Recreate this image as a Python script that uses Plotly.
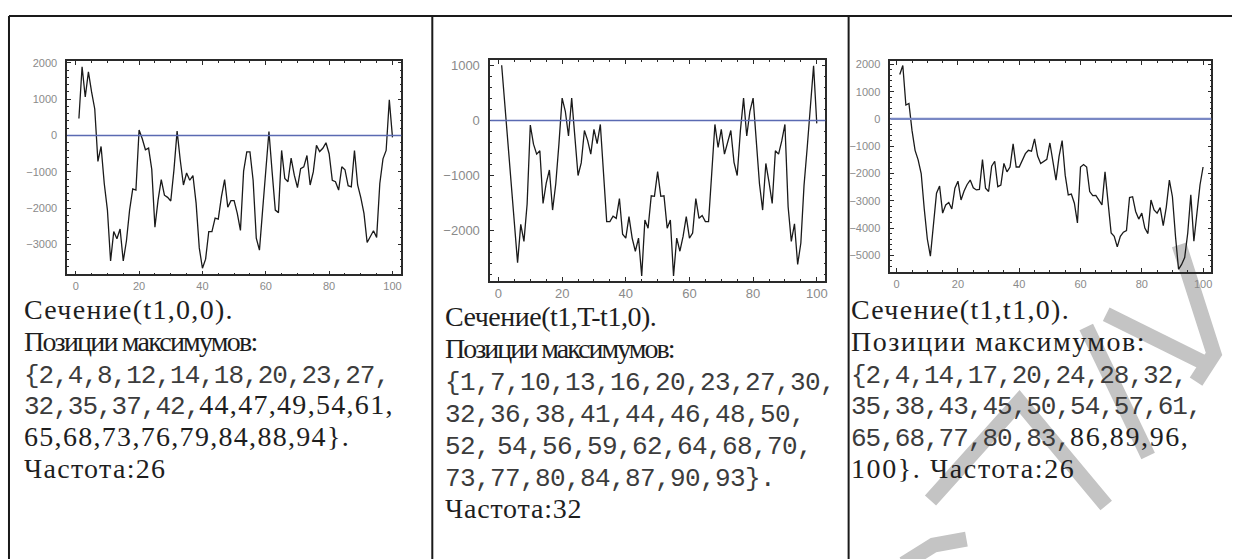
import plotly.graph_objects as go

W, H = 1234, 559

# sample index along each section
sample = list(range(1, 101))

# Сечение(t1,0,0)
section_00 = [
    470, 1890, 1060, 1750, 1200, 730, -710, -300, -1320, -2050,
    -3450, -2640, -2840, -2570, -3450, -2900, -2050, -1470, -1500, 150,
    -90, -390, -345, -930, -2520, -1770, -1210, -1640, -1700, -1800,
    -950, 120, -680, -1360, -1030, -1230, -1100, -1860, -3090, -3650,
    -3400, -2640, -2640, -2270, -2300, -1680, -1210, -1970, -1790, -1790,
    -2140, -2610, -980, -450, -450, -1230, -2820, -3150, -2050, -940,
    110, -1000, -2050, -2120, -410, -1180, -1270, -620, -1090, -1430,
    -910, -860, -550, -1360, -1000, -270, -440, -350, -200, -500,
    -1230, -1270, -1500, -860, -940, -1380, -1410, -410, -1360, -1710,
    -2140, -2940, -2770, -2620, -2800, -1320, -640, -410, 980, -50,
]

# Сечение(t1,T-t1,0)
section_T = [
    1010, 290, -430, -1150, -1880, -2590, -1890, -2200, -1520, -80,
    -430, -610, -550, -1510, -1140, -900, -1630, -1150, -420, 410,
    170, -280, 410, -250, -1000, -770, -180, -360, -610, -160,
    -420, -70, -960, -1840, -1840, -1740, -1780, -1420, -2070, -2140,
    -1750, -2140, -2380, -2140, -2830, -1810, -1960, -1370, -1380, -930,
    -1380, -1370, -1960, -1810, -2830, -2140, -2380, -2110, -1750, -2140,
    -2050, -1420, -1780, -1730, -1840, -1840, -960, -70, -490, -160,
    -610, -400, -180, -760, -1000, -190, 410, -280, 170, 410,
    -370, -1150, -1630, -780, -1120, -1510, -550, -610, -370, -70,
    -1570, -2200, -1880, -2620, -2230, -1180, -490, 200, 1000, -50,
]

# Сечение(t1,t1,0)
section_tt = [
    1630, 1960, 510, 570, -420, -1150, -1500, -2000, -3300, -4400,
    -5030, -3900, -2720, -2460, -3450, -3150, -3060, -3300, -2540, -2280,
    -2970, -2640, -2400, -2240, -2520, -2600, -2580, -1490, -2540, -2660,
    -1730, -1550, -2480, -2420, -1630, -1940, -1760, -910, -1760, -1760,
    -1510, -1270, -1150, -1180, -730, -1360, -1630, -1550, -1480, -880,
    -1510, -2240, -1370, -790, -2060, -2780, -2750, -3090, -3810, -1760,
    -1670, -1760, -2660, -2810, -2800, -2970, -3150, -1940, -3150, -4180,
    -4300, -4690, -4300, -4150, -4090, -2880, -2850, -3390, -3670, -3450,
    -4000, -4200, -2970, -3330, -3450, -3250, -3910, -3230, -2240, -2850,
    -4300, -5510, -5330, -5080, -4180, -2780, -4480, -3330, -2420, -1760,
]

x_ticks = [0, 20, 40, 60, 80, 100]
y_ticks_00 = [-3000, -2000, -1000, 0, 1000, 2000]
y_ticks_T = [-2000, -1000, 0, 1000]
y_ticks_tt = [-5000, -4000, -3000, -2000, -1000, 0, 1000, 2000]

SERIF = "Liberation Serif, Times New Roman, serif"
MONO = "Liberation Mono, Courier New, monospace"


def serif(s, ls=1.3, size=28):
    return f'<span style="font-size:{size}px;letter-spacing:{ls}px">{s}</span>'


def mono(s, ls=-1.0, size=26):
    return (f'<span style="font-family:{MONO};font-size:{size}px;'
            f'letter-spacing:{ls}px;fill:#3c3c3c">{s}</span>')


captions_00 = [
    serif("Сечение(t1,0,0)."),
    serif("Позиции максимумов:", -1.8),
    mono("{2,4,8,12,14,18,20,23,27,"),
    mono("32,35,37,42,") + serif("44,47,49,54,61,"),
    serif("65,68,73,76,79,84,88,94}."),
    serif("Частота:26"),
]
captions_T = [
    serif("Сечение(t1,T-t1,0).", -0.5),
    serif("Позиции максимумов:", -2.0),
    mono("{1,7,10,13,16,20,23,27,30,", -0.6),
    mono("32,36,38,41,44,46,48,50,", -0.6),
    mono("52,", -0.6) + serif(" ", 0) + mono("54,56,59,62,64,68,70,", -0.6),
    mono("73,77,80,84,87,90,93}.", -0.6),
    serif("Частота:32", 0.8),
]
captions_tt = [
    serif("Сечение(t1,t1,0)."),
    serif("Позиции максимумов:", 1.5),
    mono("{2,4,14,17,20,24,28,32,"),
    mono("35,38,43,45,50,54,57,61,"),
    mono("65,68,77,80,83,") + serif("86,89,96,", 1.6),
    serif("100}. Частота:26", 1.6),
]

# panel frames in pixels: (left, right), (top, bottom); caption block origin and line pitch
panels = [
    dict(series=section_00, yt=y_ticks_00, px=(67.3, 402.0), py=(56.7, 271.7),
         xr=(-2.7, 102.8), yr=(-3815, 2044), fs=11, xs=1, zc="#5a6ab2", zw=1.5,
         text=captions_00, tx=22, ttop=290, pitch=31.8),
    dict(series=section_T, yt=y_ticks_T, px=(491.0, 826.7), py=(55.3, 278.3),
         xr=(-2.6, 102.7), yr=(-2919, 1108), fs=13, xs=0, zc="#5a6ab2", zw=1.5,
         text=captions_T, tx=444, ttop=297, pitch=32.0),
    dict(series=section_tt, yt=y_ticks_tt, px=(891.7, 1213.3), py=(56.7, 269.3),
         xr=(-2.1, 102.7), yr=(-5605, 2118), fs=11, xs=1, zc="#7988c4", zw=2.2,
         text=captions_tt, tx=850, ttop=290, pitch=31.8),
]

fig = go.Figure()
shapes = []
annotations = []

for i, p in enumerate(panels):
    n = "" if i == 0 else str(i + 1)
    xa, ya = "x" + n, "y" + n
    fig.add_trace(go.Scatter(
        x=sample, y=p["series"], mode="lines", xaxis=xa, yaxis=ya,
        line=dict(color="#1a1a1a", width=1.3), hoverinfo="skip",
    ))
    common = dict(
        showline=True, linecolor="#2a2a2a", linewidth=1.5, mirror="allticks",
        ticks="inside", ticklen=4, tickwidth=1, tickcolor="#2a2a2a",
        showgrid=False, zeroline=False,
        tickfont=dict(family="Liberation Sans, Arial, sans-serif", size=p["fs"], color="#8a8a8a"),
    )
    fig.layout["xaxis" + n] = dict(
        domain=[p["px"][0] / W, p["px"][1] / W], range=list(p["xr"]),
        anchor=ya, tickvals=x_ticks, ticklabelstandoff=p["xs"],
        minor=dict(dtick=5, tick0=0, ticks="inside", ticklen=2, tickcolor="#2a2a2a"),
        **common,
    )
    fig.layout["yaxis" + n] = dict(
        domain=[1 - p["py"][1] / H, 1 - p["py"][0] / H], range=list(p["yr"]),
        anchor=xa, tickvals=p["yt"], ticklabelstandoff=6,
        minor=dict(dtick=200, tick0=0, ticks="inside", ticklen=2, tickcolor="#2a2a2a"),
        **common,
    )
    # zero reference line across the frame
    shapes.append(dict(type="line", xref=xa + " domain", yref=ya, x0=0, x1=1, y0=0, y1=0,
                       line=dict(color=p["zc"], width=p["zw"]), layer="above"))
    # caption block under the panel; base size sets the line pitch (1.3 em)
    annotations.append(dict(
        xref="paper", yref="paper", x=p["tx"] / W, y=1 - p["ttop"] / H,
        xanchor="left", yanchor="top", showarrow=False, align="left",
        text="<br>".join(p["text"]),
        font=dict(family=SERIF, size=p["pitch"] / 1.3, color="#1e1e1e"),
    ))


# table rules
def px_line(x0, y0, x1, y1, w=2.0):
    return dict(type="line", xref="paper", yref="paper",
                x0=x0 / W, x1=x1 / W, y0=1 - y0 / H, y1=1 - y1 / H,
                line=dict(color="#1a1a1a", width=w), layer="above")


shapes += [
    px_line(9, 11, W, 11),
    px_line(9, 11, 9, H),
    px_line(433, 11, 433, H),
    px_line(850, 11, 850, H),
]


# faint diagonal watermark strokes
def px_path(points):
    return " ".join(f"{cmd}{xs / W:.5f},{1 - ys / H:.5f}" for cmd, xs, ys in points)


mark = [
    [("M", 932, 500), ("L", 1021, 400), ("L", 1108, 505)],
    [("M", 1088, 325), ("L", 1150, 455)],
    [("M", 1108, 312), ("L", 1212, 364)],
    [("M", 1181, 242), ("L", 1216, 352), ("L", 1198, 380)],
    [("M", 905, 564), ("L", 935, 545), ("L", 968, 539)],
]
for m in mark:
    shapes.append(dict(type="path", xref="paper", yref="paper", path=px_path(m),
                       line=dict(color="#c4c4c4", width=15), layer="below"))

fig.update_layout(
    width=W, height=H, margin=dict(l=0, r=0, t=0, b=0),
    paper_bgcolor="white", plot_bgcolor="rgba(0,0,0,0)",
    showlegend=False, shapes=shapes, annotations=annotations,
)

fig.write_html("out.html")
